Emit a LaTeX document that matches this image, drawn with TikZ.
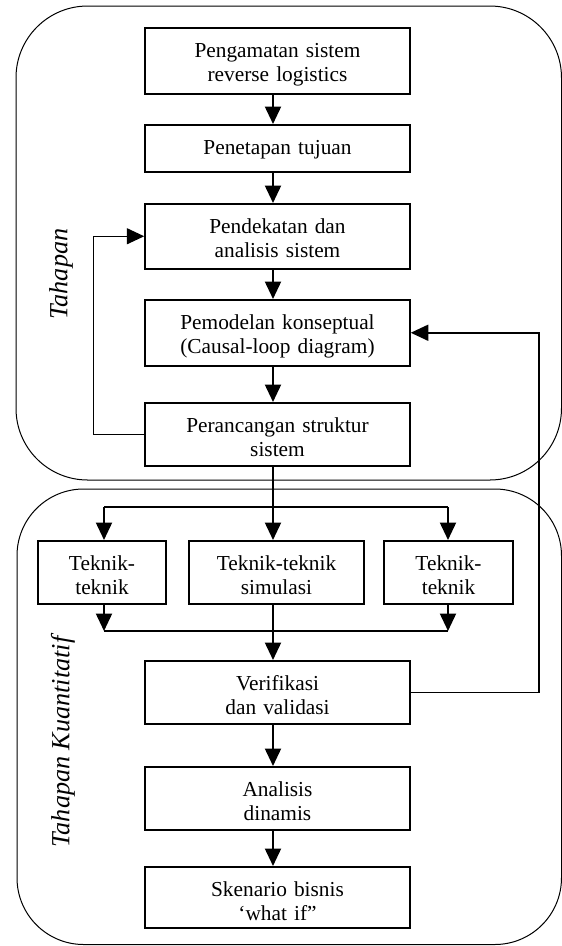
\documentclass[tikz,border=0pt]{standalone}
\usepackage{fontspec}
\setmainfont{Liberation Serif}
\usepackage{tikz}
\usetikzlibrary{arrows.meta}

\begin{document}
\begin{tikzpicture}[x=0.6pt, y=-0.6pt,
    box/.style={draw, line width=0.9pt, inner xsep=0pt, inner ysep=0pt, anchor=north,
        align=center, text height=18pt, font=\fontsize{12.8pt}{14.4pt}\selectfont},
    arr/.style={-{Triangle[length=10.5pt,width=9.6pt]}, line width=1.3pt},
    link/.style={line width=0.8pt},
    side/.style={rotate=90, font=\fontsize{15.7pt}{18pt}\selectfont\itshape}]
    \useasboundingbox (0,0) rectangle (562,946);

    \draw[line width=0.6pt, rounded corners=43pt] (16,6) rectangle (561.5,480);
    \draw[line width=0.6pt, rounded corners=40pt] (17,489) rectangle (561.5,944.5);

    \node[side] (kual) at (61,274) {Tahapan};
    \node[side] (kuan) at (63,742) {Tahapan Kuantitatif};

    \node[box, text width=159pt, text depth=21.6pt] (amat) at (277.5,27) {Pengamatan sistem\\reverse logistics};
    \node[box, text width=159pt, text depth=10.2pt] (tuju) at (277.5,124) {Penetapan tujuan};
    \node[box, text width=159pt, text depth=21pt] (anls) at (277.5,203) {Pendekatan dan\\analisis sistem};
    \node[box, text width=159pt, text depth=21.6pt] (konsep) at (277.5,299) {Pemodelan konseptual\\(Causal-loop diagram)};
    \node[box, text width=159pt, text depth=19.8pt] (strukt) at (277.5,402) {Perancangan struktur\\sistem};

    \node[box, text width=76.8pt, text depth=19.8pt] (tek1) at (102,540) {Teknik-\\teknik};
    \node[box, text width=105pt, text depth=19.8pt] (tek2) at (276.5,540) {Teknik-teknik\\simulasi};
    \node[box, text width=77.4pt, text depth=19.8pt] (tek3) at (448.5,540) {Teknik-\\teknik};

    \node[box, text width=159pt, text depth=19.8pt] (verif) at (277.5,660) {Verifikasi\\dan validasi};
    \node[box, text width=159pt, text depth=19.8pt] (dinam) at (277.5,766) {Analisis\\dinamis};
    \node[box, text width=159pt, text depth=18.6pt] (skena) at (277.5,866) {Skenario bisnis\\‘what if”};

    \coordinate (col) at (273,0);
    \coordinate (spl) at (104,507);
    \coordinate (spr) at (448,507);
    \coordinate (mgl) at (104,631);
    \coordinate (mgr) at (448,631);

    \draw[arr] (amat.south -| col) -- (tuju.north -| col);
    \draw[arr] (tuju.south -| col) -- (anls.north -| col);
    \draw[arr] (anls.south -| col) -- (konsep.north -| col);
    \draw[arr] (konsep.south -| col) -- (strukt.north -| col);
    \draw[arr, line width=0.9pt] (strukt.west) -- ++(-51,0) |- (anls.west);

    \draw[arr] (strukt.south -| col) -- (tek2.north -| col);
    \draw[link] (spl) -- (spr);
    \draw[arr] (spl) -- (spl |- tek1.north);
    \draw[arr] (spr) -- (spr |- tek3.north);
    \draw[arr] (spl |- tek1.south) -- (mgl);
    \draw[arr] (spr |- tek3.south) -- (mgr);
    \draw[link] (mgl) -- (mgr);
    \draw[arr] (tek2.south -| col) -- (verif.north -| col);

    \draw[arr, line width=0.9pt] (verif.east) -- ++(128,0) |- (konsep.east);
    \draw[arr] (verif.south -| col) -- (dinam.north -| col);
    \draw[arr] (dinam.south -| col) -- (skena.north -| col);
\end{tikzpicture}
\end{document}
